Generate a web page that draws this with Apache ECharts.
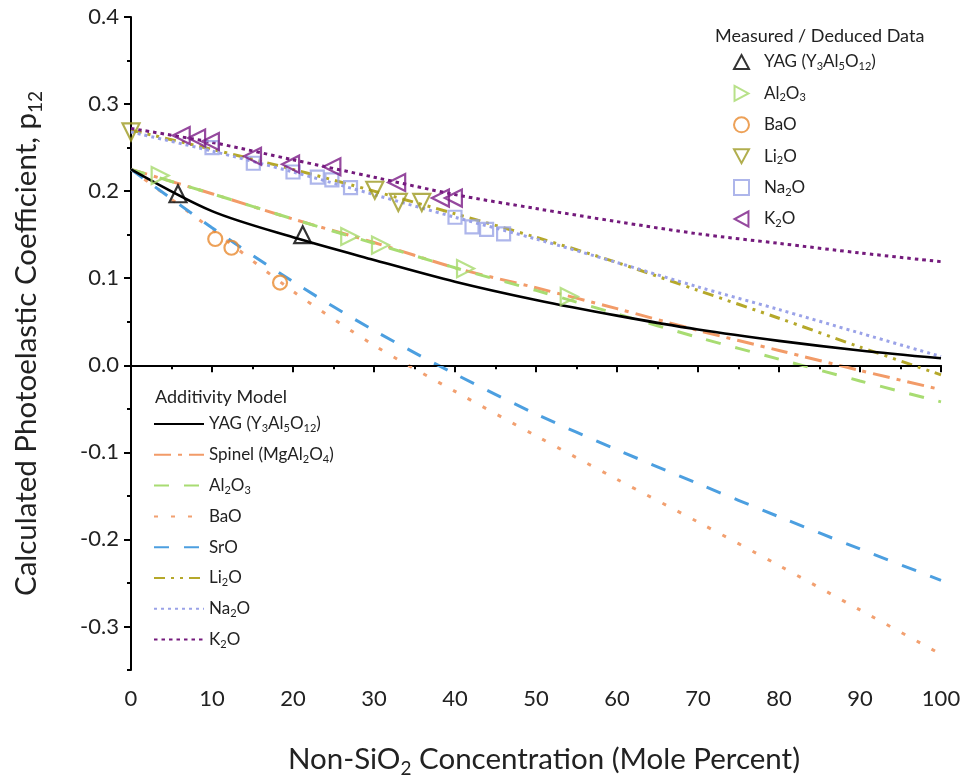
<!DOCTYPE html>
<html>
<head>
<meta charset="utf-8">
<script src="https://cdn.jsdelivr.net/npm/echarts@6/dist/echarts.min.js"></script>
<style>
  html, body { margin: 0; padding: 0; background: #fff; }
  #chart { width: 965px; height: 783px; }
</style>
</head>
<body>
<div id="chart"></div>
<script>
// Composition grid (mole percent of non-SiO2 component) for the model curves
const modelX = [0, 10, 20, 30, 40, 50, 60, 70, 80, 90, 100];

// Additivity model p12 curves
const yagModel    = [0.225, 0.177, 0.147, 0.121, 0.096, 0.075, 0.057, 0.041, 0.028, 0.017, 0.008];
const spinelModel = [0.225, 0.197, 0.168, 0.141, 0.112, 0.089, 0.065, 0.040, 0.017, -0.006, -0.028];
const al2o3Model  = [0.225, 0.197, 0.168, 0.140, 0.112, 0.086, 0.059, 0.032, 0.007, -0.018, -0.042];
const baoModel    = [0.225, 0.156, 0.085, 0.023, -0.030, -0.081, -0.131, -0.180, -0.230, -0.281, -0.332];
const sroModel    = [0.225, 0.158, 0.096, 0.040, -0.010, -0.056, -0.097, -0.136, -0.174, -0.211, -0.247];
const li2oModel   = [0.270, 0.248, 0.225, 0.200, 0.174, 0.147, 0.118, 0.086, 0.054, 0.021, -0.011];
const na2oModel   = [0.268, 0.246, 0.222, 0.196, 0.170, 0.145, 0.118, 0.090, 0.064, 0.037, 0.010];
const k2oModel    = [0.272, 0.256, 0.236, 0.216, 0.196, 0.180, 0.165, 0.151, 0.140, 0.129, 0.119];

// Measured / deduced points
const yagX   = [5.8, 21.2];
const yagY   = [0.197, 0.150];
const al2o3X = [3.6, 27.0, 30.8, 41.3, 54.1];
const al2o3Y = [0.218, 0.148, 0.138, 0.111, 0.079];
const baoX   = [10.4, 12.4, 18.4];
const baoY   = [0.145, 0.135, 0.095];
const li2oX  = [0, 30.1, 33.0, 35.9];
const li2oY  = [0.268, 0.201, 0.187, 0.187];
const na2oX  = [10.0, 15.1, 20.0, 23.0, 24.8, 27.1, 40.0, 42.1, 43.9, 46.0];
const na2oY  = [0.250, 0.232, 0.222, 0.216, 0.213, 0.204, 0.170, 0.159, 0.156, 0.151];
const k2oX   = [6.2, 8.1, 9.8, 15.0, 19.7, 24.8, 32.8, 38.2, 39.8];
const k2oY   = [0.264, 0.261, 0.257, 0.240, 0.231, 0.228, 0.210, 0.192, 0.192];

// Axis ticks
const xMin = 0, xMax = 100, xStep = 10;
const yMin = -0.35, yMax = 0.4;
const yMajorTicks = [-0.3, -0.2, -0.1, 0.0, 0.1, 0.2, 0.3, 0.4];
const yMinorTicks = [-0.35, -0.25, -0.15, -0.05, 0.05, 0.15, 0.25, 0.35];

// Legend labels with chemical subscripts (rich text)
const legendLabels = {
  YAG: 'YAG (Y{s|3}Al{s|5}O{s|12})',
  Spinel: 'Spinel (MgAl{s|2}O{s|4})',
  Al2O3: 'Al{s|2}O{s|3}',
  BaO: 'BaO',
  SrO: 'SrO',
  Li2O: 'Li{s|2}O',
  Na2O: 'Na{s|2}O',
  K2O: 'K{s|2}O'
};

// Outline icons for the data legend (keep their aspect and direction)
const ICON_UP    = 'path://M8,1L15,14L1,14Z';
const ICON_RIGHT = 'path://M2,1L15,8L2,15Z';
const ICON_DOWN  = 'path://M1,2L15,2L8,15Z';
const ICON_LEFT  = 'path://M14,1L1,8L14,15Z';

const FONT = 'Lato, "Open Sans", sans-serif';
const INK = '#222';
const pairs = (xs, ys) => xs.map((x, i) => [x, ys[i]]);

function modelLine(name, ys, color, width, dash, z) {
  return {
    name: name + ' model',
    type: 'line',
    data: pairs(modelX, ys),
    smooth: 0.3,
    symbol: 'none',
    z: z || 2,
    lineStyle: { color: color, width: width, type: dash },
    itemStyle: { color: color }
  };
}

function measured(name, xs, ys, color, symbol, rotate, size, icon) {
  return {
    name: name + ' data',
    type: 'scatter',
    data: pairs(xs, ys),
    symbol: symbol,
    symbolRotate: rotate,
    symbolSize: size,
    clip: false,
    z: 5,
    legendIconPath: icon,
    itemStyle: { color: 'rgba(255,255,255,0)', borderColor: color, borderWidth: 2.2 }
  };
}

const lineSeries = [
  modelLine('YAG',    yagModel,    '#000000', 2.6, 'solid', 4),
  modelLine('Spinel', spinelModel, '#f29b68', 3, [17, 7, 4, 7]),
  modelLine('Al2O3',  al2o3Model,  '#a8dc72', 3, [15, 15]),
  modelLine('BaO',    baoModel,    '#f2a070', 3, [4, 13]),
  modelLine('SrO',    sroModel,    '#4c9fe0', 3, [15, 15]),
  modelLine('Li2O',   li2oModel,   '#b5a82a', 3, [11, 6, 3, 6, 3, 6]),
  modelLine('Na2O',   na2oModel,   '#9aa2e8', 3, [3, 4]),
  modelLine('K2O',    k2oModel,    '#741a7c', 3, [3.5, 4])
];

// Zero reference line
lineSeries[0].markLine = {
  silent: true,
  symbol: 'none',
  label: { show: false },
  lineStyle: { color: '#000', width: 1.2, type: 'solid' },
  data: [{ yAxis: 0 }]
};

const pointSeries = [
  measured('YAG',   yagX,   yagY,   '#000000', 'triangle', 0,   17, ICON_UP),
  measured('Al2O3', al2o3X, al2o3Y, '#a6da6c', 'triangle', -90, 17, ICON_RIGHT),
  measured('BaO',   baoX,   baoY,   '#e8892e', 'circle',   0,   14, 'circle'),
  measured('Li2O',  li2oX,  li2oY,  '#9e9a22', 'triangle', 180, 17, ICON_DOWN),
  measured('Na2O',  na2oX,  na2oY,  '#9aa4e6', 'rect',     0,   13, 'rect'),
  measured('K2O',   k2oX,   k2oY,   '#7a1c86', 'triangle', 90,  17, ICON_LEFT)
];

const richSub = {
  s: { fontSize: 11, lineHeight: 11, verticalAlign: 'bottom', fontFamily: FONT, color: INK }
};
const titleSub = {
  s: { fontSize: 19, lineHeight: 19, verticalAlign: 'bottom', fontFamily: FONT, color: INK }
};

const chart = echarts.init(document.getElementById('chart'), null, { renderer: 'canvas' });

chart.setOption({
  backgroundColor: '#fff',
  animation: false,
  textStyle: { fontFamily: FONT },
  title: [
    { text: 'Measured / Deduced Data', left: 710, top: 22,
      textStyle: { fontSize: 18, fontWeight: 'normal', color: INK, fontFamily: FONT } },
    { text: 'Additivity Model', left: 150, top: 383,
      textStyle: { fontSize: 18, fontWeight: 'normal', color: INK, fontFamily: FONT } }
  ],
  grid: { left: 131, right: 24, top: 17, bottom: 113, containLabel: false, outerBoundsMode: 'none' },
  legend: [
    {
      orient: 'vertical', left: 728, top: 47,
      itemWidth: 15, itemHeight: 15, itemGap: 11.4,
      data: pointSeries.map(s => ({ name: s.name, icon: s.legendIconPath })),
      formatter: name => legendLabels[name.split(' ')[0]],
      textStyle: { fontSize: 17, color: INK, lineHeight: 20, fontFamily: FONT,
                   padding: [0, 0, 0, 10], rich: richSub }
    },
    {
      orient: 'vertical', left: 148, top: 409,
      itemWidth: 50, itemHeight: 14, itemGap: 10.8,
      itemStyle: { opacity: 0 },
      data: lineSeries.map(s => s.name),
      formatter: name => legendLabels[name.split(' ')[0]],
      textStyle: { fontSize: 17, color: INK, lineHeight: 20, fontFamily: FONT, rich: richSub }
    }
  ],
  xAxis: {
    type: 'value',
    min: xMin, max: xMax, interval: xStep,
    name: 'Non-SiO{s|2} Concentration (Mole Percent)',
    nameLocation: 'middle',
    nameGap: 71,
    nameTextStyle: { fontSize: 29.5, color: INK, fontFamily: FONT, lineHeight: 37,
                     padding: [0, 0, 0, 16], rich: titleSub },
    axisLine: { show: true, lineStyle: { color: '#000', width: 2 } },
    axisTick: { show: true, inside: false, length: 7, lineStyle: { color: '#000', width: 2 } },
    minorTick: { show: true, splitNumber: 2, length: 4, lineStyle: { color: '#000', width: 2 } },
    axisLabel: { fontSize: 22, color: INK, margin: 18, fontFamily: FONT },
    splitLine: { show: false },
    minorSplitLine: { show: false }
  },
  yAxis: [
    {
      type: 'value',
      position: 'left',
      min: yMin, max: yMax,
      name: 'Calculated Photoelastic Coefficient, p{s|12}',
      nameLocation: 'middle',
      nameRotate: 90,
      nameGap: 86,
      nameTextStyle: { fontSize: 29.5, color: INK, fontFamily: FONT, lineHeight: 37, rich: titleSub },
      axisLine: { show: true, onZero: false, lineStyle: { color: '#000', width: 2 } },
      axisTick: { show: true, inside: false, length: 7, customValues: yMajorTicks,
                  lineStyle: { color: '#000', width: 2 } },
      axisLabel: { fontSize: 22, color: INK, margin: 12, customValues: yMajorTicks,
                   fontFamily: FONT, formatter: v => v.toFixed(1) },
      splitLine: { show: false }
    },
    {
      type: 'value',
      position: 'left',
      min: yMin, max: yMax,
      axisLine: { show: false },
      axisTick: { show: true, inside: false, length: 4, customValues: yMinorTicks,
                  lineStyle: { color: '#000', width: 2 } },
      axisLabel: { show: false },
      splitLine: { show: false }
    }
  ],
  series: lineSeries.concat(pointSeries)
});
</script>
</body>
</html>
